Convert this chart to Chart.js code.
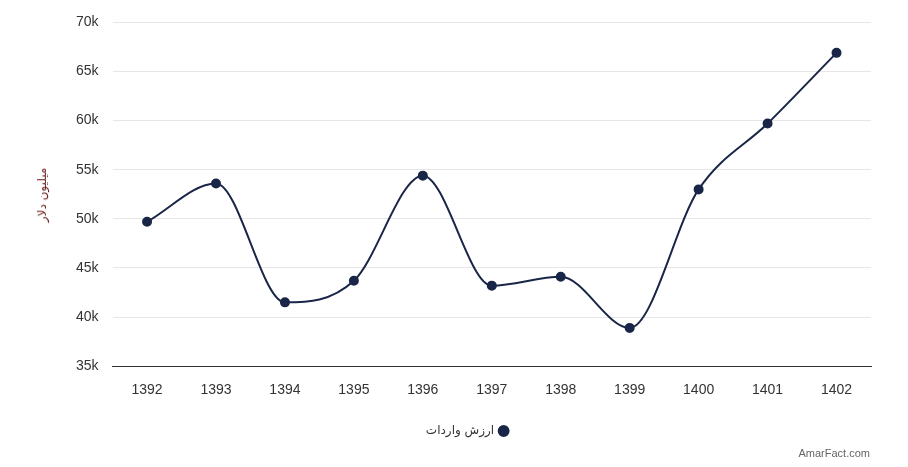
<!DOCTYPE html>
<html><head><meta charset="utf-8">
<script src="https://cdn.jsdelivr.net/npm/chart.js@4/dist/chart.umd.min.js"></script>
<style>html,body{margin:0;padding:0;background:#fff}#w{position:relative;width:908px;height:467px}</style>
</head><body><div id="w"><canvas id="c" width="908" height="467"></canvas>
<div id="yt" dir="rtl" style="position:absolute;left:42px;top:195px;transform:translate(-50%,-50%) rotate(-90deg);font:12px 'DejaVu Sans',Arial;color:#6b1f1f;white-space:nowrap"></div>
<div style="position:absolute;right:38px;bottom:8px;font:11px 'Liberation Sans',Arial;color:#666">AmarFact.com</div></div>
<script>
const categories=['1392','1393','1394','1395','1396','1397','1398','1399','1400','1401','1402'];
const importValues=[49700,53600,41500,43700,54400,43200,44100,38900,53000,59700,66900];
const seriesName='ارزش واردات';
const yTitle='میلیون دلار';
const col='#1a2648';
document.getElementById('yt').textContent=yTitle;
new Chart(document.getElementById('c'),{type:'line',
data:{labels:categories,datasets:[{label:seriesName,data:importValues,borderColor:col,backgroundColor:col,borderWidth:2,pointRadius:4,pointHoverRadius:4,cubicInterpolationMode:'monotone'}]},
options:{responsive:false,animation:false,
layout:{padding:{left:62,right:37,top:18,bottom:20}},
plugins:{legend:{position:'bottom',rtl:true,textDirection:'rtl',labels:{usePointStyle:true,pointStyle:'circle',boxWidth:7,boxHeight:7,color:'#333',font:{family:'DejaVu Sans',size:12},padding:18}},tooltip:{enabled:false}},
scales:{x:{offset:true,grid:{display:false},border:{color:'#333'},ticks:{color:'#333',font:{family:'Liberation Sans',size:14},padding:8}},
y:{min:35000,max:70000,ticks:{stepSize:5000,color:'#333',font:{family:'Liberation Sans',size:14},callback:v=>v/1000+'k',padding:14},grid:{color:'#e6e6e6',drawTicks:false},border:{display:false}}}}});
</script></body></html>
